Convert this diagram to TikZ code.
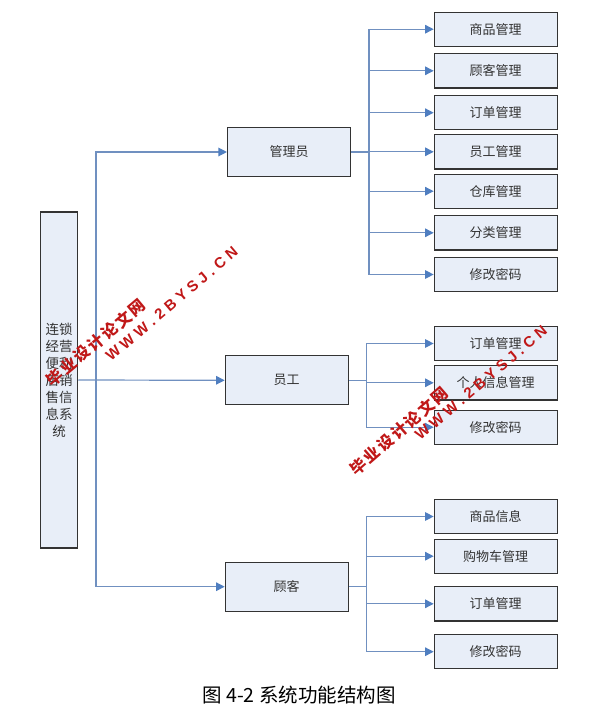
\documentclass[tikz,border=0pt]{standalone}
\usepackage{fontspec}
\setmainfont{Noto Sans CJK SC}
\newfontfamily\wmlat{Liberation Sans}
\usetikzlibrary{arrows.meta}
\definecolor{boxfill}{HTML}{E8EEF8}
\definecolor{boxline}{HTML}{333333}
\definecolor{conn}{HTML}{7090C0}
\definecolor{tip}{HTML}{4F7EC0}
\definecolor{wmred}{HTML}{C01818}
\definecolor{txt}{HTML}{333333}
\newcommand{\lsp}{\hspace{4.3pt}}
\newcommand{\wmurl}{W\lsp W\lsp W\lsp .\lsp 2\lsp B\lsp Y\lsp S\lsp J\lsp .\lsp C\lsp N}
\newcommand{\wmcn}{毕\hspace{2pt}业\hspace{2pt}设\hspace{2pt}计\hspace{2pt}论\hspace{2pt}文\hspace{2pt}网}
\tikzset{
  box/.style={draw=boxline, fill=boxfill, line width=1.1pt, inner sep=0pt,
    text=txt, font=\fontsize{13}{15}\selectfont},
  mainbox/.style={box, minimum width=37pt, minimum height=336pt},
  rolebox/.style={box, minimum width=123pt, minimum height=49pt},
  leafbox/.style={box, minimum width=123pt, minimum height=34.3pt},
  link/.style={draw=conn, line width=1.2pt},
  arr/.style={link, -{Triangle[length=8.5pt,width=8.5pt,fill=tip,color=tip]}},
  wmcjk/.style={text=wmred, font=\fontsize{16}{18}\selectfont\bfseries, inner sep=0pt},
  wmurlst/.style={text=wmred, font=\wmlat\bfseries\fontsize{15}{17}\selectfont, inner sep=0pt}
}
\begin{document}
\begin{tikzpicture}[x=1pt,y=-1pt]
\useasboundingbox (0,0) rectangle (602,712);
% main system box
\node[mainbox, align=center, font=\fontsize{13.5}{17}\selectfont] (sys) at (59.2,380)
  {连锁\\经营\\便利\\店销\\售信\\息系\\统};
% role boxes
\node[rolebox] (gly) at (289,152) {管理员};
\node[rolebox] (yg)  at (286.7,380.3) {员工};
\node[rolebox] (gk)  at (286.7,586.7) {顾客};
% admin leaves
\node[leafbox] (a1) at (495.7,29.2)  {商品管理};
\node[leafbox] (a2) at (495.7,70.8)  {顾客管理};
\node[leafbox] (a3) at (495.7,112.7) {订单管理};
\node[leafbox] (a4) at (495.7,151.8) {员工管理};
\node[leafbox] (a5) at (495.7,191.2) {仓库管理};
\node[leafbox] (a6) at (495.7,232.8) {分类管理};
\node[leafbox] (a7) at (495.7,274.5) {修改密码};
% employee leaves
\node[leafbox] (e1) at (495.7,343.5) {订单管理};
\node[leafbox] (e2) at (495.7,382.8) {个人信息管理};
\node[leafbox] (e3) at (495.7,427.2) {修改密码};
% customer leaves
\node[leafbox] (c1) at (495.7,516.5) {商品信息};
\node[leafbox] (c2) at (495.7,556.2) {购物车管理};
\node[leafbox] (c3) at (495.7,603.8) {订单管理};
\node[leafbox] (c4) at (495.7,651.7) {修改密码};
% system connectors
\coordinate (trunk) at (96,380);
\draw[arr] (sys.east) -- (yg.west);
\draw[arr] (trunk) |- (gly.west);
\draw[arr] (trunk) |- (gk.west);
% admin bus
\coordinate (ab) at (369,152);
\draw[link] (gly.east) -- (ab);
\foreach \n in {a1,a2,a3,a4,a5,a6,a7} \draw[arr] (ab) |- (\n.west);
% employee bus
\coordinate (eb) at (366.7,380.3);
\draw[link] (yg.east) -- (eb);
\foreach \n in {e1,e2,e3} \draw[arr] (eb) |- (\n.west);
% customer bus
\coordinate (cb) at (366.7,586.7);
\draw[link] (gk.east) -- (cb);
\foreach \n in {c1,c2,c3,c4} \draw[arr] (cb) |- (\n.west);
% caption
\node[text=black, font=\fontsize{19.5}{22}\selectfont, inner sep=0pt] (cap) at (299,695) {图 4-2 系统功能结构图};
% watermarks
\node[wmcjk, rotate=40] (wm1a) at (95.8,342.5) {\wmcn};
\node[wmurlst, rotate=40.2] (wm1b) at (171.7,304) {\wmurl};
\node[wmcjk, rotate=41] (wm2a) at (399,431) {\wmcn};
\node[wmurlst, rotate=40.2] (wm2b) at (481,383) {\wmurl};
\end{tikzpicture}
\end{document}
